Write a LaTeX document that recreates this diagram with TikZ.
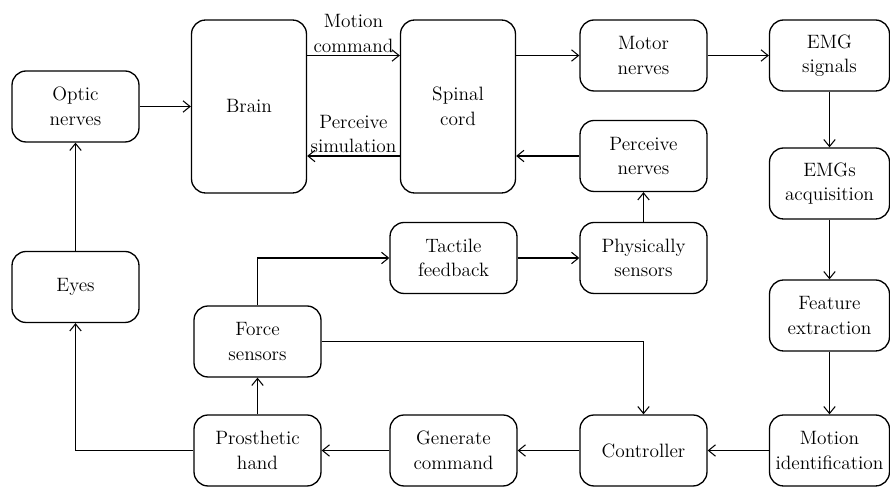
\documentclass[tikz,border=0pt]{standalone}
\usetikzlibrary{arrows.meta}
\tikzset{
	blk/.style={draw, rounded corners=8pt, line width=0.75pt, minimum width=2.54cm, minimum height=1.42cm, align=center, inner sep=1pt, font=\fontsize{11}{14}\selectfont},
	tall/.style={blk, minimum width=2.3cm, minimum height=3.46cm},
	side/.style={blk, minimum width=2.4cm},
	flow/.style={-{Straight Barb[length=4pt,width=6.5pt]}, line width=0.6pt},
	lbl/.style={align=center, inner sep=1.5pt, font=\fontsize{11}{14}\selectfont}
}

\begin{document}
\begin{tikzpicture}[x=0.02cm, y=-0.02cm]
			\useasboundingbox (0,0) rectangle (890,489);
			% upper part
			\node[blk] (optic) at (75.5,106.5) {Optic\\nerves};
			\node[tall] (brain) at (249,106.5) {Brain};
			\node[tall] (spinal) at (458,106.5) {Spinal\\cord};
			\node[blk] (motor) at (643.5,55.5) {Motor\\nerves};
			\node[blk] (perceive) at (643.5,156) {Perceive\\nerves};
			\node[side] (emg) at (829.5,55.5) {EMG\\signals};
			\node[side] (acq) at (829.5,183.5) {EMGs\\acquisition};
			% lower part
			\node[blk] (tactile) at (453.5,258) {Tactile\\feedback};
			\node[blk] (physical) at (643.5,258) {Physically\\sensors};
			\node[blk] (eyes) at (75.5,287) {Eyes};
			\node[side] (feature) at (829.5,315.5) {Feature\\extraction};
			\node[blk] (force) at (257.5,341.5) {Force\\sensors};
			\node[blk] (hand) at (257.5,450.5) {Prosthetic\\hand};
			\node[blk] (generate) at (453.5,450.5) {Generate\\command};
			\node[blk] (controller) at (643.5,450.5) {Controller};
			\node[side] (motion) at (829.5,450.5) {Motion\\identification};

			\draw[flow] (optic) -- (brain);
			\draw[flow] (brain.east |- motor) -- (spinal.west |- motor) node[lbl, midway, above] {Motion\\command};
			\draw[flow] (spinal.west |- perceive) -- (brain.east |- perceive) node[lbl, midway, above] {Perceive\\simulation};
			\draw[flow] (spinal.east |- motor) -- (motor);
			\draw[flow] (motor) -- (emg);
			\draw[flow] (emg) -- (acq);
			\draw[flow] (acq) -- (feature);
			\draw[flow] (feature) -- (motion);
			\draw[flow] (motion) -- (controller);
			\draw[flow] (controller) -- (generate);
			\draw[flow] (generate) -- (hand);
			\draw[flow] (hand) -- (force);
			\draw[flow] (hand.west) -| (eyes.south);
			\draw[flow] (eyes) -- (optic);
			\draw[flow] (force.north) |- (tactile.west);
			\draw[flow] (tactile) -- (physical);
			\draw[flow] (physical) -- (perceive);
			\draw[flow] (perceive.west) -- (spinal.east |- perceive);
			\draw[flow] (force.east) -| (controller.north);
		\end{tikzpicture}
\end{document}
